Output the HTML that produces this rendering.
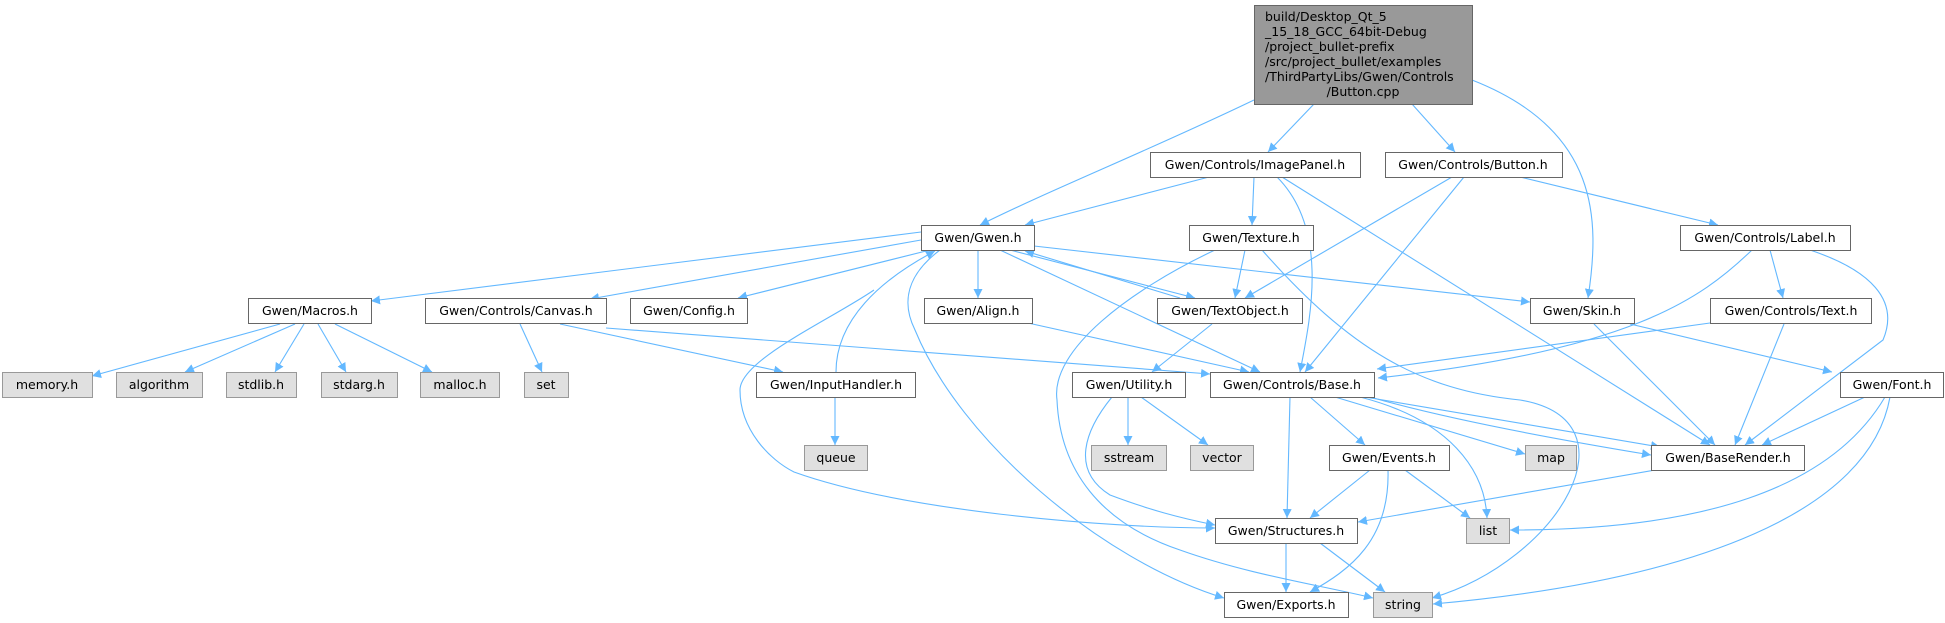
<!DOCTYPE html>
<html><head><meta charset="utf-8"><style>
html,body{margin:0;padding:0;background:#fff}
svg{display:block}
text{font-family:"DejaVu Sans","Liberation Sans",sans-serif;font-size:12.5px;fill:#000}
.e{fill:none;stroke:#63b8ff;stroke-width:1.1;marker-end:url(#a)}
.w{fill:#fff;stroke:#666;stroke-width:1}
.g{fill:#e0e0e0;stroke:#999;stroke-width:1}
</style></head><body>
<svg width="1945" height="623" viewBox="0 0 1945 623" xmlns="http://www.w3.org/2000/svg">
<defs><marker id="a" viewBox="0 0 10 10" refX="10" refY="5" markerWidth="9" markerHeight="9" markerUnits="userSpaceOnUse" orient="auto"><path d="M0,0 L10,5 L0,10 z" fill="#63b8ff"/></marker></defs>
<path class="e" d="M1254,100 C1150,150 1050,190 980,225"/>
<path class="e" d="M1314,104 L1268,152"/>
<path class="e" d="M1412,104 L1455,152"/>
<path class="e" d="M1472,80 C1600,130 1600,220 1588,298"/>
<path class="e" d="M1209,177 L1025,225"/>
<path class="e" d="M1254,177 L1252,225"/>
<path class="e" d="M1277,177 C1330,230 1310,320 1300,372"/>
<path class="e" d="M1282,177 L1710,445"/>
<path class="e" d="M1452,177 L1245,298"/>
<path class="e" d="M1464,177 L1305,372"/>
<path class="e" d="M1520,177 L1718,225"/>
<path class="e" d="M921,232 L371,301"/>
<path class="e" d="M921,240 L590,299"/>
<path class="e" d="M930,250 L738,298"/>
<path class="e" d="M978,250 L978,298"/>
<path class="e" d="M1010,250 L1195,298"/>
<path class="e" d="M1180,298 L1025,251"/>
<path class="e" d="M1034,246 L1530,302"/>
<path class="e" d="M1000,250 L1260,372"/>
<path class="e" d="M874,290 C830,320 740,360 740,390 C740,430 770,460 794,472 C900,510 1100,528 1215,528"/>
<path class="e" d="M940,250 C900,280 905,310 915,330 C960,440 1100,560 1224,598"/>
<path class="e" d="M836,372 C836,320 880,280 935,251"/>
<path class="e" d="M1212,324 L1152,372"/>
<path class="e" d="M1245,250 L1235,298"/>
<path class="e" d="M1215,250 C1130,290 1050,350 1057,400 C1060,470 1100,523 1180,550 C1250,575 1320,585 1373,598"/>
<path class="e" d="M1262,250 C1350,350 1420,390 1520,400 C1640,420 1560,560 1432,598"/>
<path class="e" d="M606,328 L1210,374"/>
<path class="e" d="M560,324 L783,372"/>
<path class="e" d="M520,324 L542,372"/>
<path class="e" d="M1028,323 L1249,372"/>
<path class="e" d="M1290,397 L1287,518"/>
<path class="e" d="M1310,397 L1365,445"/>
<path class="e" d="M1335,397 L1525,454"/>
<path class="e" d="M1360,397 C1450,420 1485,470 1487,518"/>
<path class="e" d="M1365,397 L1660,447"/>
<path class="e" d="M1370,397 C1450,420 1560,440 1651,455"/>
<path class="e" d="M1128,397 L1128,445"/>
<path class="e" d="M1141,397 L1208,445"/>
<path class="e" d="M1112,397 C1085,430 1070,470 1110,495 C1150,510 1180,518 1215,525"/>
<path class="e" d="M1370,470 L1310,518"/>
<path class="e" d="M1405,470 L1470,518"/>
<path class="e" d="M1388,470 C1390,540 1350,570 1310,592"/>
<path class="e" d="M1286,543 L1286,592"/>
<path class="e" d="M1320,543 L1385,592"/>
<path class="e" d="M1752,250 C1700,300 1630,350 1378,378"/>
<path class="e" d="M1770,250 L1783,298"/>
<path class="e" d="M1810,250 C1870,270 1900,300 1883,340 L1745,445"/>
<path class="e" d="M1710,323 L1377,369"/>
<path class="e" d="M1784,324 L1735,445"/>
<path class="e" d="M1594,324 L1715,445"/>
<path class="e" d="M1630,324 L1832,372"/>
<path class="e" d="M1865,397 L1762,445"/>
<path class="e" d="M1885,397 C1830,490 1700,530 1510,530"/>
<path class="e" d="M1890,397 C1870,510 1700,580 1433,604"/>
<path class="e" d="M1655,470 L1358,522"/>
<path class="e" d="M280,324 L92,376"/>
<path class="e" d="M295,324 L185,372"/>
<path class="e" d="M304,324 L275,372"/>
<path class="e" d="M318,324 L346,372"/>
<path class="e" d="M335,324 L432,372"/>
<path class="e" d="M835,397 L835,445"/>
<rect x="1254.5" y="5.5" width="218" height="99" fill="#999" stroke="#666"/>
<text x="1265" y="21">build/Desktop_Qt_5</text>
<text x="1265" y="36">_15_18_GCC_64bit-Debug</text>
<text x="1265" y="51">/project_bullet-prefix</text>
<text x="1265" y="66">/src/project_bullet/examples</text>
<text x="1265" y="81">/ThirdPartyLibs/Gwen/Controls</text>
<text x="1363" y="96" text-anchor="middle">/Button.cpp</text>
<g text-anchor="middle">
<rect class="w" x="1150.5" y="152.5" width="210" height="25"/><text x="1255" y="169">Gwen/Controls/ImagePanel.h</text>
<rect class="w" x="1385.5" y="152.5" width="177" height="25"/><text x="1473" y="169">Gwen/Controls/Button.h</text>
<rect class="w" x="921.5" y="225.5" width="113" height="25"/><text x="978" y="242">Gwen/Gwen.h</text>
<rect class="w" x="1189.5" y="225.5" width="124" height="25"/><text x="1251" y="242">Gwen/Texture.h</text>
<rect class="w" x="1680.5" y="225.5" width="170" height="25"/><text x="1765" y="242">Gwen/Controls/Label.h</text>
<rect class="w" x="248.5" y="298.5" width="123" height="25"/><text x="310" y="315">Gwen/Macros.h</text>
<rect class="w" x="425.5" y="298.5" width="181" height="25"/><text x="516" y="315">Gwen/Controls/Canvas.h</text>
<rect class="w" x="630.5" y="298.5" width="117" height="25"/><text x="689" y="315">Gwen/Config.h</text>
<rect class="w" x="924.5" y="298.5" width="108" height="25"/><text x="978" y="315">Gwen/Align.h</text>
<rect class="w" x="1157.5" y="298.5" width="145" height="25"/><text x="1230" y="315">Gwen/TextObject.h</text>
<rect class="w" x="1530.5" y="298.5" width="104" height="25"/><text x="1582" y="315">Gwen/Skin.h</text>
<rect class="w" x="1710.5" y="298.5" width="161" height="25"/><text x="1791" y="315">Gwen/Controls/Text.h</text>
<rect class="g" x="2.5" y="372.5" width="90" height="25"/><text x="47" y="389">memory.h</text>
<rect class="g" x="116.5" y="372.5" width="86" height="25"/><text x="159" y="389">algorithm</text>
<rect class="g" x="226.5" y="372.5" width="70" height="25"/><text x="261" y="389">stdlib.h</text>
<rect class="g" x="321.5" y="372.5" width="76" height="25"/><text x="359" y="389">stdarg.h</text>
<rect class="g" x="420.5" y="372.5" width="79" height="25"/><text x="460" y="389">malloc.h</text>
<rect class="g" x="524.5" y="372.5" width="44" height="25"/><text x="546" y="389">set</text>
<rect class="w" x="756.5" y="372.5" width="159" height="25"/><text x="836" y="389">Gwen/InputHandler.h</text>
<rect class="w" x="1072.5" y="372.5" width="113" height="25"/><text x="1129" y="389">Gwen/Utility.h</text>
<rect class="w" x="1210.5" y="372.5" width="164" height="25"/><text x="1292" y="389">Gwen/Controls/Base.h</text>
<rect class="w" x="1840.5" y="372.5" width="103" height="25"/><text x="1892" y="389">Gwen/Font.h</text>
<rect class="g" x="804.5" y="445.5" width="63" height="25"/><text x="836" y="462">queue</text>
<rect class="g" x="1091.5" y="445.5" width="75" height="25"/><text x="1129" y="462">sstream</text>
<rect class="g" x="1190.5" y="445.5" width="63" height="25"/><text x="1222" y="462">vector</text>
<rect class="w" x="1329.5" y="445.5" width="120" height="25"/><text x="1389" y="462">Gwen/Events.h</text>
<rect class="g" x="1525.5" y="445.5" width="51" height="25"/><text x="1551" y="462">map</text>
<rect class="w" x="1651.5" y="445.5" width="153" height="25"/><text x="1728" y="462">Gwen/BaseRender.h</text>
<rect class="w" x="1215.5" y="518.5" width="142" height="25"/><text x="1286" y="535">Gwen/Structures.h</text>
<rect class="g" x="1466.5" y="518.5" width="43" height="25"/><text x="1488" y="535">list</text>
<rect class="w" x="1224.5" y="592.5" width="124" height="25"/><text x="1286" y="609">Gwen/Exports.h</text>
<rect class="g" x="1373.5" y="592.5" width="59" height="25"/><text x="1403" y="609">string</text>
</g>
</svg>
</body></html>
